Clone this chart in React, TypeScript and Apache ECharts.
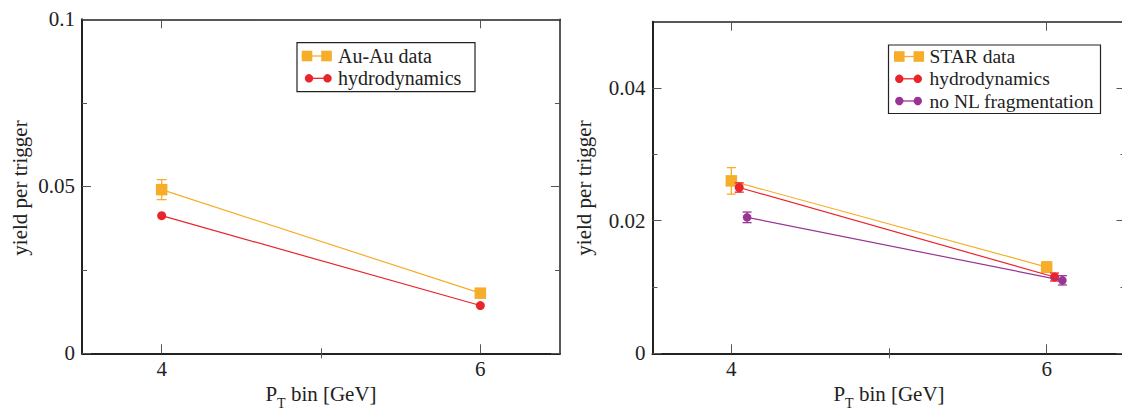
import React, { useEffect, useRef } from "react";
import * as echarts from "echarts";

// ---- data ----
const leftX = [4, 6];
const auAuYield = [0.049, 0.018];
const auAuErr = [0.003, 0.0005];
const hydroLeftYield = [0.0412, 0.0143];

const starX = [4, 6];
const starYield = [0.026, 0.013];
const starErr = [0.002, 0.0008];
const hydroRightX = [4.05, 6.05];
const hydroRightYield = [0.025, 0.0115];
const hydroRightErr = [0.0007, 0.0006];
const noNLX = [4.1, 6.1];
const noNLYield = [0.0205, 0.011];
const noNLErr = [0.0008, 0.0007];

// ---- ticks ----
const xMajorTicks = [4, 6];
const xMinorTicks = [5];
const leftYMajor = [0, 0.05, 0.1];
const leftYMinor = [0.025, 0.075];
const rightYMajor = [0, 0.02, 0.04];
const rightYMinor = [0.01, 0.03];

const leftLegend = ["Au-Au data", "hydrodynamics"];
const rightLegend = ["STAR data", "hydrodynamics", "no NL fragmentation"];
const yName = "yield per trigger";

const FONT = "Liberation Serif";
const ORANGE = "#F6AD29";
const RED = "#E8252B";
const PURPLE = "#993494";
const INK = "#222";
const TICK = "#555";

const GRIDS = [
  { left: 82, top: 19.3, width: 478, height: 334 },
  { left: 652.5, top: 21.7, width: 473, height: 331.6 },
];

function xAxesFor(grid: number) {
  const base: any = {
    type: "value",
    gridIndex: grid,
    min: 3.5,
    max: 6.5,
    splitLine: { show: false },
    axisLabel: { show: false },
    axisLine: { show: false },
  };
  const tick = (vals: number[], len: number) => ({
    show: true,
    inside: true,
    length: len,
    customValues: vals,
    lineStyle: { color: TICK, width: 1 },
  });
  return [
    {
      ...base,
      position: "bottom",
      axisLine: { show: true, onZero: false, lineStyle: { color: INK, width: 2 } },
      axisTick: tick(xMajorTicks, 9),
      axisLabel: {
        show: true,
        customValues: xMajorTicks,
        margin: 5,
        fontSize: 21,
        fontFamily: FONT,
        color: INK,
        formatter: (v: number) => String(v),
      },
    },
    { ...base, position: "bottom", axisTick: tick(xMinorTicks, 5) },
    {
      ...base,
      position: "top",
      axisLine: { show: true, onZero: false, lineStyle: { color: INK, width: 1.5 } },
      axisTick: tick(xMajorTicks, 9),
    },
    { ...base, position: "top", axisTick: tick(xMinorTicks, 5) },
  ];
}

function yAxesFor(grid: number, max: number, major: number[], minor: number[]) {
  const base: any = {
    type: "value",
    gridIndex: grid,
    min: 0,
    max,
    splitLine: { show: false },
    axisLabel: { show: false },
    axisLine: { show: false },
  };
  const tick = (vals: number[], len: number) => ({
    show: true,
    inside: true,
    length: len,
    customValues: vals,
    lineStyle: { color: TICK, width: 1 },
  });
  return [
    {
      ...base,
      position: "left",
      axisLine: { show: true, onZero: false, lineStyle: { color: INK, width: 2 } },
      axisTick: tick(major, 9),
      axisLabel: {
        show: true,
        customValues: major,
        margin: 7,
        fontSize: 21,
        fontFamily: FONT,
        color: INK,
        formatter: (v: number) => String(v),
      },
    },
    { ...base, position: "left", axisTick: tick(minor, 5) },
    {
      ...base,
      position: "right",
      axisLine: { show: true, onZero: false, lineStyle: { color: INK, width: 1.5 } },
      axisTick: tick(major, 9),
    },
    { ...base, position: "right", axisTick: tick(minor, 5) },
  ];
}

function lineSeries(
  name: string,
  xs: number[],
  ys: number[],
  xi: number,
  yi: number,
  color: string,
  symbol: string,
  size: number,
  z: number
) {
  return {
    type: "line",
    name,
    xAxisIndex: xi,
    yAxisIndex: yi,
    data: xs.map((x, i) => [x, ys[i]]),
    symbol,
    symbolSize: size,
    showSymbol: true,
    itemStyle: { color, opacity: 1 },
    lineStyle: { color, width: 1.2 },
    z,
    silent: true,
  };
}

function errSeries(
  xs: number[],
  ys: number[],
  es: number[],
  xi: number,
  yi: number,
  color: string,
  cap: number,
  z: number
) {
  return {
    type: "custom",
    xAxisIndex: xi,
    yAxisIndex: yi,
    data: xs.map((x, i) => [x, ys[i] - es[i], ys[i] + es[i]]),
    encode: { x: 0, y: [1, 2] },
    z,
    silent: true,
    renderItem: (_params: any, api: any) => {
      const x = api.value(0);
      const lo = api.coord([x, api.value(1)]);
      const hi = api.coord([x, api.value(2)]);
      const st = { stroke: color, lineWidth: 1.3 };
      return {
        type: "group",
        children: [
          { type: "line", shape: { x1: lo[0], y1: lo[1], x2: hi[0], y2: hi[1] }, style: st },
          { type: "line", shape: { x1: lo[0] - cap, y1: lo[1], x2: lo[0] + cap, y2: lo[1] }, style: st },
          { type: "line", shape: { x1: hi[0] - cap, y1: hi[1], x2: hi[0] + cap, y2: hi[1] }, style: st },
        ],
      };
    },
  };
}

function txt(text: string, x: number, y: number, size: number, extra: any = {}) {
  const { align, ...rest } = extra;
  return {
    type: "text",
    x,
    y,
    z: 101,
    ...rest,
    style: {
      text,
      fontSize: size,
      fontFamily: FONT,
      fill: INK,
      align: align || "left",
      textAlign: align || "left",
      verticalAlign: "middle",
      textVerticalAlign: "middle",
    },
  };
}

function squareSym(cx: number, cy: number, color: string) {
  const s = 10.6;
  return [
    { type: "line", z: 101, shape: { x1: cx, y1: cy, x2: cx + 19.5, y2: cy }, style: { stroke: color, lineWidth: 1.3 } },
    { type: "rect", z: 102, shape: { x: cx - s / 2, y: cy - s / 2, width: s, height: s }, style: { fill: color } },
    { type: "rect", z: 102, shape: { x: cx + 19.5 - s / 2, y: cy - s / 2, width: s, height: s }, style: { fill: color } },
  ];
}

function circleSym(cx: number, cy: number, color: string) {
  return [
    { type: "line", z: 101, shape: { x1: cx, y1: cy, x2: cx + 18.5, y2: cy }, style: { stroke: color, lineWidth: 1.3 } },
    { type: "circle", z: 102, shape: { cx, cy, r: 4.2 }, style: { fill: color } },
    { type: "circle", z: 102, shape: { cx: cx + 18.5, cy, r: 4.2 }, style: { fill: color } },
  ];
}

function xName(cx: number) {
  return {
    type: "text",
    x: cx,
    y: 394,
    z: 101,
    style: {
      text: "{a|P}{b|T}{a| bin [GeV]}",
      rich: {
        a: { fontSize: 21, fontFamily: FONT, fill: INK },
        b: { fontSize: 14, fontFamily: FONT, fill: INK, padding: [18, 0, 0, 0] },
      },
      fontFamily: FONT,
      fontSize: 21,
      fill: INK,
      align: "center",
      textAlign: "center",
      verticalAlign: "middle",
      textVerticalAlign: "middle",
    },
  };
}

export default function App() {
  const ref = useRef<HTMLDivElement>(null);
  useEffect(() => {
    if (!ref.current) return;
    const chart = echarts.init(ref.current, undefined, { renderer: "svg" });
    const leftRows = [56, 78.3];
    const rightRows = [56.5, 78.8, 101];
    const graphic: any[] = [
      // left legend
      {
        type: "rect",
        z: 100,
        shape: { x: 297, y: 42.7, width: 178, height: 49 },
        style: { fill: "#fff", stroke: INK, lineWidth: 1.2 },
      },
      ...squareSym(307, leftRows[0], ORANGE),
      txt(leftLegend[0], 338, leftRows[0], 20),
      ...circleSym(309, leftRows[1], RED),
      txt(leftLegend[1], 338, leftRows[1], 20),
      // right legend
      {
        type: "rect",
        z: 100,
        shape: { x: 888.5, y: 45, width: 212, height: 68.5 },
        style: { fill: "#fff", stroke: INK, lineWidth: 1.2 },
      },
      ...squareSym(899.3, rightRows[0], ORANGE),
      txt(rightLegend[0], 929.5, rightRows[0], 19.5),
      ...circleSym(899.3, rightRows[1], RED),
      txt(rightLegend[1], 929.5, rightRows[1], 19.5),
      ...circleSym(899.3, rightRows[2], PURPLE),
      txt(rightLegend[2], 929.5, rightRows[2], 19.5),
      // axis names
      txt(yName, 20, 188, 21, { rotation: Math.PI / 2, align: "center" }),
      txt(yName, 583.5, 188, 21, { rotation: Math.PI / 2, align: "center" }),
      xName(321),
      xName(889),
    ];

    chart.setOption({
      animation: false,
      backgroundColor: "#fff",
      textStyle: { fontFamily: FONT },
      grid: GRIDS.map((g) => ({ ...g, containLabel: false, outerBoundsMode: "none", show: false })),
      xAxis: [...xAxesFor(0), ...xAxesFor(1)],
      yAxis: [
        ...yAxesFor(0, 0.1, leftYMajor, leftYMinor),
        ...yAxesFor(1, 0.05, rightYMajor, rightYMinor),
      ],
      series: [
        errSeries(leftX, auAuYield, auAuErr, 0, 0, ORANGE, 5, 2),
        lineSeries("Au-Au data", leftX, auAuYield, 0, 0, ORANGE, "rect", 11.5, 3),
        lineSeries("hydrodynamics", leftX, hydroLeftYield, 0, 0, RED, "circle", 9, 5),
        errSeries(starX, starYield, starErr, 4, 4, ORANGE, 4.5, 2),
        lineSeries("STAR data", starX, starYield, 4, 4, ORANGE, "rect", 11.5, 3),
        errSeries(hydroRightX, hydroRightYield, hydroRightErr, 4, 4, RED, 4.5, 4),
        lineSeries("hydrodynamics", hydroRightX, hydroRightYield, 4, 4, RED, "circle", 9, 5),
        errSeries(noNLX, noNLYield, noNLErr, 4, 4, PURPLE, 4.5, 6),
        lineSeries("no NL fragmentation", noNLX, noNLYield, 4, 4, PURPLE, "circle", 8.5, 7),
      ],
      graphic,
    });
    return () => chart.dispose();
  }, []);
  return (
    <div
      ref={ref}
      style={{ position: "absolute", left: 0, top: 0, width: 1122, height: 410 }}
    />
  );
}
